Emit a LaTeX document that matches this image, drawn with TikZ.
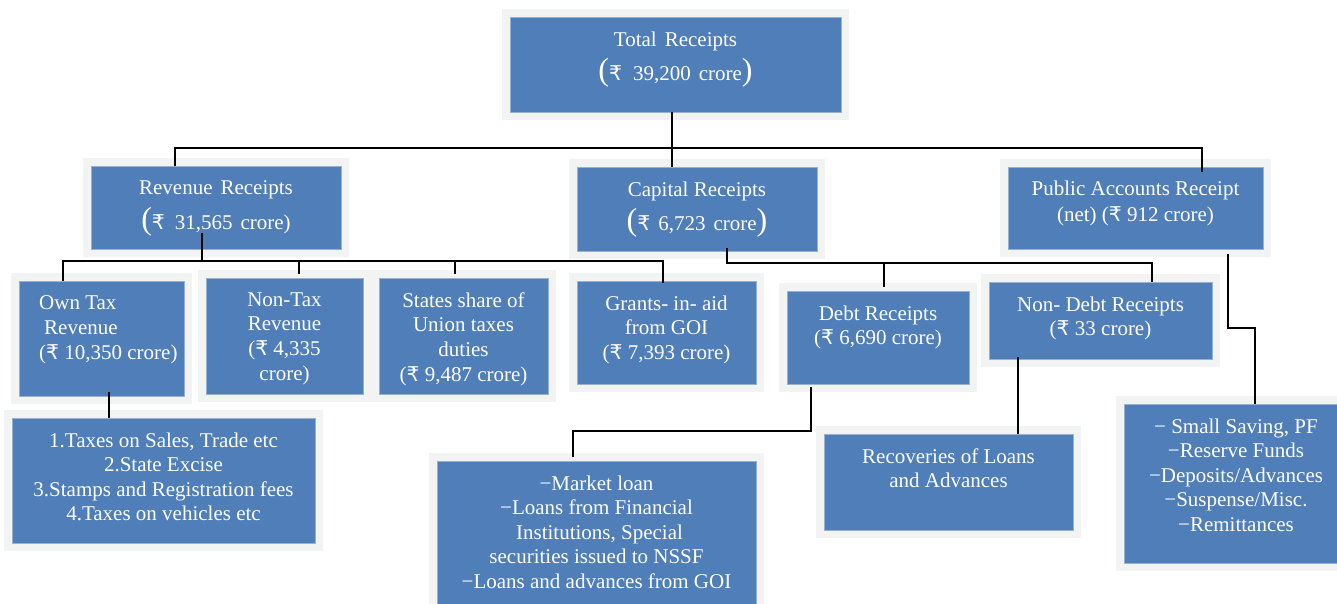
\documentclass[tikz,border=0pt]{standalone}
\usepackage{fontspec}
\setmainfont{Liberation Serif}
\newfontfamily\rupeefont{DejaVu Sans}[Scale=0.97]
\usetikzlibrary{positioning}
\definecolor{boxblue}{RGB}{79,126,184}
\definecolor{boxgray}{RGB}{242,243,243}
\newcommand{\bparen}[1]{{\fontsize{32}{32}\selectfont #1}}
\newcommand{\rupee}{{\rupeefont ₹}}
\tikzset{
  blk/.style={fill=boxblue, draw=boxblue!60!white, line width=0.7pt, inner sep=0pt,
    preaction={draw=boxgray, line width=16pt}},
  txt/.style={text=white, font=\fontsize{21}{24.6}\selectfont, align=center, inner sep=0pt},
  con/.style={line width=1.8pt, black}
}
\begin{document}
\begin{tikzpicture}[x=1pt,y=-1pt]
\useasboundingbox (0,0) rectangle (1337,604);
  \foreach \nm/\x/\y/\w/\h in {total/675.5/64.5/331/95, revenue/216/207.5/250/83,
      capital/697/209/240/84, public/1135.5/208/255/82, owntax/101.5/338.5/165/115,
      nontax/284.5/336/157/116, stshare/463.5/336/169/116, grants/666.5/332.5/179/103,
      debt/878/337.5/182/93, nondebt/1100.5/320.5/223/77, taxlist/163.5/480.5/303/125,
      mktloan/596.5/550.5/319/179, recov/948.5/482/249/96, publist/1233/483.5/218/159}
    \node[blk, minimum width=\w pt, minimum height=\h pt] (\nm) at (\x,\y) {}; % blue boxes

  \node[txt, below=14.7pt of total.north] (total-t) {Total\hspace{8pt}Receipts\\[7.2pt]\bparen{(}\rupee\hspace{11pt}39,200\hspace{8pt}crore\bparen{)}};
  \node[txt, below=14.7pt of revenue.north] (revenue-t) {Revenue\hspace{8pt}Receipts\\[7.2pt]\bparen{(}\rupee\hspace{10pt}31,565\hspace{8pt}crore)};
  \node[txt, below=14.7pt of capital.north] (capital-t) {Capital Receipts\\[7.2pt]\bparen{(}\rupee\hspace{8pt}6,723\hspace{8pt}crore\bparen{)}};
  \node[txt, below=13.7pt of public.north] (public-t) {Public Accounts Receipt\\[1.4pt](net) (\rupee\ 912 crore)};
  \node[txt, anchor=north west, align=left] (owntax-t) at (39,295.7) {Own Tax\\\hspace*{5pt}Revenue\\(\rupee\ 10,350 crore)};
  \node[txt, below=14.7pt of nontax.north] (nontax-t) {Non-Tax\\Revenue\\(\rupee\ 4,335\\crore)};
  \node[txt, below=14.7pt of stshare.north] (stshare-t) {States share of\\Union taxes\\duties\\(\rupee\ 9,487 crore)};
  \node[txt, below=14.7pt of grants.north] (grants-t) {Grants- in- aid\\from GOI\\(\rupee\ 7,393 crore)};
  \node[txt, below=14.7pt of debt.north] (debt-t) {Debt Receipts\\(\rupee\ 6,690 crore)};
  \node[txt, below=14.7pt of nondebt.north] (nondebt-t) {Non- Debt Receipts\\(\rupee\ 33 crore)};
  \node[txt, below=14.7pt of taxlist.north] (taxlist-t) {1.Taxes on Sales, Trade etc\\2.State Excise\\3.Stamps and Registration fees\\4.Taxes on vehicles etc};
  \node[txt, below=14.7pt of mktloan.north] (mktloan-t) {−Market loan\\−Loans from Financial\\\hspace*{6pt}Institutions, Special\\securities issued to NSSF\\−Loans and advances from GOI};
  \node[txt, below=14.7pt of recov.north] (recov-t) {Recoveries of Loans\\and Advances};
  \node[txt, below=14.7pt of publist.north, xshift=3pt] (publist-t) {− Small Saving, PF\\−Reserve Funds\\−Deposits/Advances\\−Suspense/Misc.\\−Remittances};

  % top level
  \coordinate (busT) at (672,148);
  \draw[con] ([xshift=-3.5pt]total.south) -- (busT);
  \draw[con] ([xshift=-41pt]revenue.north) |- (busT) -| ([xshift=66.5pt,yshift=-5pt]public.north);
  \draw[con] (busT) -- ([xshift=-25pt]capital.north);
  % revenue side
  \coordinate (busR) at (202,261);
  \draw[con] ([xshift=-14pt,yshift=16pt]revenue.south) -- (busR);
  \draw[con] ([xshift=-38.5pt]owntax.north) |- (busR) -| ([xshift=-3.5pt,yshift=-2pt]grants.north);
  \draw[con] ([xshift=14.5pt,yshift=4pt]nontax.north) |- (busR);
  \draw[con] ([xshift=-8.5pt,yshift=4pt]stshare.north) |- (busR);
  \draw[con] ([xshift=7.5pt,yshift=4pt]owntax.south) -- ([xshift=-54.5pt]taxlist.north);
  % capital side
  \coordinate (busC) at (727,263);
  \draw[con] ([xshift=30pt,yshift=3pt]capital.south) -- (busC) -| ([xshift=51.5pt]nondebt.north);
  \draw[con] ([xshift=6pt,yshift=4pt]debt.north) |- (busC);
  \draw[con] ([xshift=-67pt,yshift=-3pt]debt.south) -- ++(0,44) -| ([xshift=-23.5pt,yshift=4pt]mktloan.north);
  \draw[con] ([xshift=-82.5pt,yshift=2pt]nondebt.south) -- ([xshift=69.5pt]recov.north);
  % public accounts
  \draw[con] ([xshift=92.5pt,yshift=-5pt]public.south) -- ++(0,74) -| ([xshift=22pt]publist.north);
\end{tikzpicture}
\end{document}
